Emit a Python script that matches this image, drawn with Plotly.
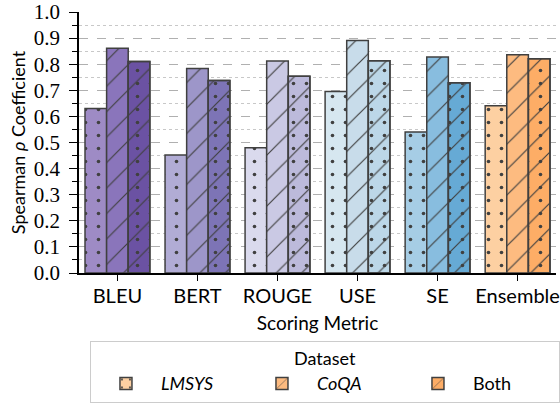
import plotly.graph_objects as go

categories = ["BLEU", "BERT", "ROUGE", "USE", "SE", "Ensemble"]
lmsys = [0.630, 0.452, 0.480, 0.695, 0.540, 0.641]
coqa = [0.861, 0.784, 0.812, 0.891, 0.828, 0.836]
both = [0.810, 0.738, 0.754, 0.813, 0.729, 0.821]

col_lmsys = ["#9e8bc5", "#b1acd5", "#dadaed", "#d6e7f0", "#a6cde5", "#fdd0a2"]
col_coqa = ["#8a75bb", "#9d96c9", "#cac9e4", "#c8dcea", "#88bddf", "#fdbb80"]
col_both = ["#6b52a3", "#7d74b6", "#bcbadb", "#bcd7e8", "#66aad5", "#fdad66"]
legend_cols = ["#fdd0a2", "#fdbb80", "#fdad66"]
legend_names = ["<i>LMSYS</i>", "<i>CoQA</i>", "Both"]

EDGE = "#404040"
W = 0.27
SANS = "Lato, 'DejaVu Sans', sans-serif"
SERIF = "'Liberation Serif', 'DejaVu Serif', serif"

def dot():
    return dict(shape=".", size=13, solidity=0.06, fgcolor=EDGE, fgopacity=1, fillmode="overlay")

def hatch():
    return dict(shape="/", size=18, solidity=0.065, fgcolor=EDGE, fgopacity=1, fillmode="overlay")

fig = go.Figure()

def add(cat, val, col, pattern, off):
    fig.add_trace(go.Bar(
        x=[cat], y=[val], width=W, offset=off,
        marker=dict(color=col, line=dict(color=EDGE, width=1.5), pattern=pattern),
        showlegend=False, hoverinfo="x+y",
    ))

for i, cat in enumerate(categories):
    add(cat, lmsys[i], col_lmsys[i], dot(), -0.405)
    add(cat, coqa[i], col_coqa[i], hatch(), -0.135)
    add(cat, both[i], col_both[i], hatch(), 0.135)
    add(cat, both[i], "rgba(0,0,0,0)", dot(), 0.135)

pats = [dot(), hatch(), hatch()]
for nm, c, p in zip(legend_names, legend_cols, pats):
    fig.add_trace(go.Bar(
        x=[categories[0]], y=[None], name=nm, width=W,
        marker=dict(color=c, line=dict(color=EDGE, width=1.5), pattern=p),
        showlegend=True,
    ))

fig.update_layout(
    width=560, height=406,
    margin=dict(l=79, r=4, t=12, b=133, autoexpand=False),
    paper_bgcolor="white", plot_bgcolor="white",
    barmode="overlay",
    font=dict(family=SANS, size=18, color="black"),
    xaxis=dict(
        type="category", range=[-0.48, 5.48],
        showline=True, linecolor="black", linewidth=1.5,
        ticks="outside", ticklen=6, tickwidth=1.2, tickcolor="black",
        tickfont=dict(family=SANS, size=20),
        ticklabelstandoff=-2,
        title=dict(text="Scoring Metric", font=dict(family=SANS, size=19), standoff=11),
        showgrid=False, automargin=False,
    ),
    yaxis=dict(
        range=[0, 1.0], dtick=0.1, tickformat=".1f",
        showline=True, linecolor="black", linewidth=1.5,
        ticks="outside", ticklen=8, tickwidth=1.2, tickcolor="black",
        tickfont=dict(family=SERIF, size=21),
        ticklabelstandoff=5,
        title=dict(text="Spearman <i>ρ</i> Coefficient", font=dict(family=SANS, size=18), standoff=3),
        showgrid=True, gridcolor="#b0b0b0", griddash="dash", gridwidth=1,
        minor=dict(dtick=0.05, ticks="outside", ticklen=5, tickcolor="black",
                   showgrid=True, gridcolor="#c8c8c8", griddash="dot", gridwidth=1),
        zeroline=False, automargin=False,
    ),
    legend=dict(
        orientation="h", x=0.023, xanchor="left", y=-0.26, yanchor="top",
        title=dict(text="Dataset", side="top center", font=dict(family=SANS, size=18)),
        bordercolor="#cccccc", borderwidth=1,
        font=dict(family=SANS, size=18),
        itemwidth=60,
        entrywidth=81,
        traceorder="normal",
    ),
)

fig.write_html("out.html", config={"displayModeBar": False},
               post_script="document.body.style.margin='0px';")
